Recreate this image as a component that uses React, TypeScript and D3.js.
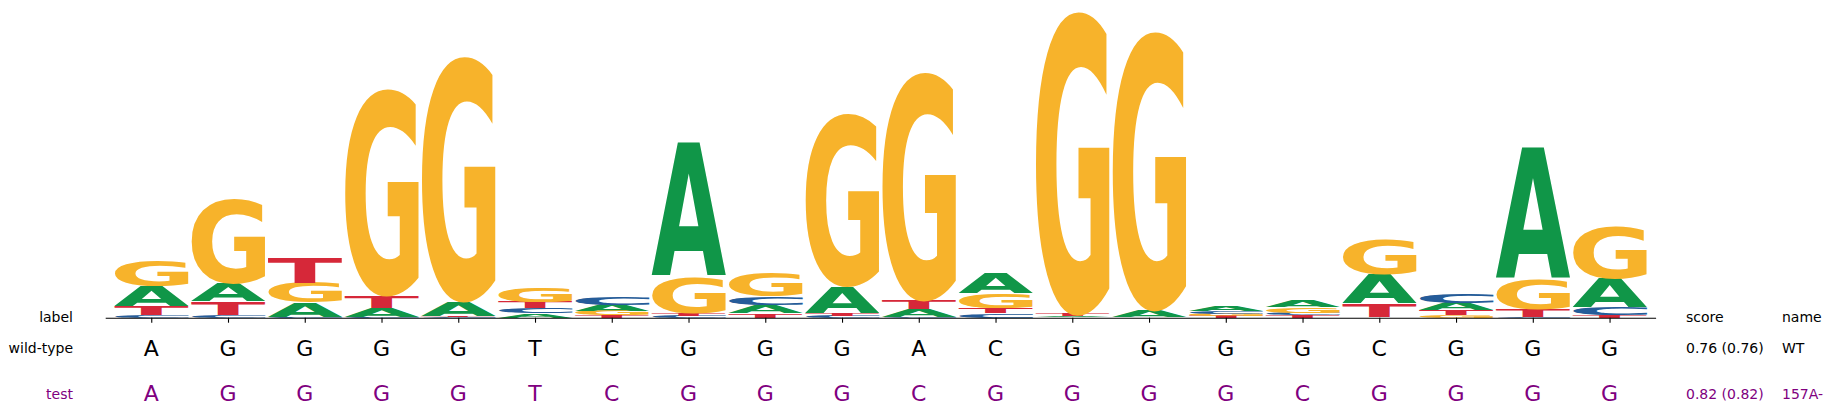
import React, { useRef, useEffect } from 'react';
import * as d3 from 'd3';

// logo letter heights (bits) per position
const letters = ['A', 'C', 'G', 'T'];
const heightA = [0.13, 0.12, 0.093, 0.06, 0.097, 0.028, 0.04, 0.87, 0.053, 0.173, 0.05, 0.13, 0.008, 0.045, 0.032, 0.043, 0.188, 0.048, 0.86, 0.184];
const heightC = [0.017, 0.017, 0.005, 0.005, 0.004, 0.032, 0.05, 0.012, 0.056, 0.012, 0.004, 0.028, 0.003, 0.003, 0.015, 0.017, 0.003, 0.06, 0.004, 0.05];
const heightG = [0.167, 0.55, 0.13, 1.35, 1.6, 0.10, 0.03, 0.234, 0.156, 1.125, 1.49, 0.097, 1.98, 1.82, 0.013, 0.035, 0.227, 0.017, 0.19, 0.34];
const heightT = [0.056, 0.087, 0.158, 0.08, 0.006, 0.043, 0.015, 0.018, 0.028, 0.016, 0.06, 0.032, 0.012, 0.003, 0.012, 0.015, 0.089, 0.032, 0.05, 0.017];

const wildType = ['A', 'G', 'G', 'G', 'G', 'T', 'C', 'G', 'G', 'G', 'A', 'C', 'G', 'G', 'G', 'G', 'C', 'G', 'G', 'G'];
const testSeq = ['A', 'G', 'G', 'G', 'G', 'T', 'C', 'G', 'G', 'G', 'C', 'G', 'G', 'G', 'G', 'C', 'G', 'G', 'G', 'G'];

const rowNames = ['wild-type', 'test'];
const rowScores = ['0.76 (0.76)', '0.82 (0.82)'];
const rowIds = ['WT', '157A-'];

const colors: Record<string, string> = { A: '#109648', C: '#255C99', G: '#F7B32B', T: '#D62839' };

export default function App() {
    const svgRef = useRef<SVGSVGElement | null>(null);

    useEffect(() => {
        if (!svgRef.current) return;
        const svg = d3.select(svgRef.current);
        svg.selectAll("*").remove();

        const W = 1832, H = 415;
        svg.attr("width", W).attr("height", H);

        const xScale = d3.scaleLinear().domain([-0.6, 19.6]).range([105.2, 1655.6]);
        const yScale = d3.scaleLinear().domain([0, 2]).range([317.7, 9.7]);
        const step = xScale(1) - xScale(0);
        const glyphW = step * 0.972;

        // measure tight ink bounds of each letter
        const ctx = document.createElement('canvas').getContext('2d')!;
        const fontFamily = '"DejaVu Sans"';
        ctx.font = `bold 100px ${fontFamily}`;
        const metrics: Record<string, TextMetrics> = {};
        letters.forEach(l => { metrics[l] = ctx.measureText(l); });

        const heights: Record<string, number[]> = { A: heightA, C: heightC, G: heightG, T: heightT };

        const logo = svg.append("g");
        d3.range(20).forEach(i => {
            const stack = letters.map(l => ({ l, h: heights[l][i] })).sort((a, b) => a.h - b.h);
            let base = 0;
            stack.forEach(({ l, h }) => {
                const yBot = yScale(base);
                const yTop = yScale(base + h);
                base += h;
                const m = metrics[l];
                const inkW = m.actualBoundingBoxLeft + m.actualBoundingBoxRight;
                const inkH = m.actualBoundingBoxAscent + m.actualBoundingBoxDescent;
                const sx = glyphW / inkW;
                const sy = (yBot - yTop) / inkH;
                const x0 = xScale(i) - glyphW / 2;
                logo.append("text")
                    .attr("transform", `translate(${x0},${yTop}) scale(${sx},${sy}) translate(${m.actualBoundingBoxLeft},${m.actualBoundingBoxAscent})`)
                    .attr("font-family", fontFamily)
                    .attr("font-weight", "bold")
                    .attr("font-size", 100)
                    .attr("fill", colors[l])
                    .text(l);
            });
        });

        // axis
        const axis = svg.append("g").attr("transform", `translate(0,${yScale(0)})`)
            .call(d3.axisBottom(xScale).tickValues(d3.range(20)).tickFormat(() => "").tickSizeOuter(0).tickSizeInner(5));
        axis.select(".domain").attr("stroke", "#000").attr("stroke-width", 1.1);
        axis.selectAll(".tick line").attr("stroke", "#000").attr("stroke-width", 1.1);

        const labelFont = '"DejaVu Sans", sans-serif';
        svg.append("text").attr("x", 73).attr("y", 322.3).attr("text-anchor", "end")
            .attr("font-family", labelFont).attr("font-size", 14).text("label");
        svg.append("text").attr("x", 1686).attr("y", 322.3)
            .attr("font-family", labelFont).attr("font-size", 14).text("score");
        svg.append("text").attr("x", 1782).attr("y", 322.3)
            .attr("font-family", labelFont).attr("font-size", 14).text("name");

        const seqs = [wildType, testSeq];
        const rowColors = ['#000000', '#800080'];
        const rowBase = [352.7, 398.6];
        const seqBase = [355.5, 401];
        seqs.forEach((seq, r) => {
            svg.append("text").attr("x", 73).attr("y", rowBase[r]).attr("text-anchor", "end")
                .attr("font-family", labelFont).attr("font-size", 14).attr("fill", rowColors[r]).text(rowNames[r]);
            svg.append("g").selectAll("text").data(seq).join("text")
                .attr("x", (_, i) => xScale(i)).attr("y", seqBase[r]).attr("text-anchor", "middle")
                .attr("font-family", labelFont).attr("font-size", 22).attr("fill", rowColors[r])
                .text(d => d);
            svg.append("text").attr("x", 1686).attr("y", rowBase[r])
                .attr("font-family", labelFont).attr("font-size", 14).attr("fill", rowColors[r]).text(rowScores[r]);
            svg.append("text").attr("x", 1782).attr("y", rowBase[r])
                .attr("font-family", labelFont).attr("font-size", 14).attr("fill", rowColors[r]).text(rowIds[r]);
        });
    }, []);

    return (
        <div style={{ position: 'absolute', left: 0, top: 0, width: 1832, height: 415, background: '#fff', overflow: 'hidden' }}>
            <svg ref={svgRef} style={{ display: 'block' }}></svg>
        </div>
    );
}
